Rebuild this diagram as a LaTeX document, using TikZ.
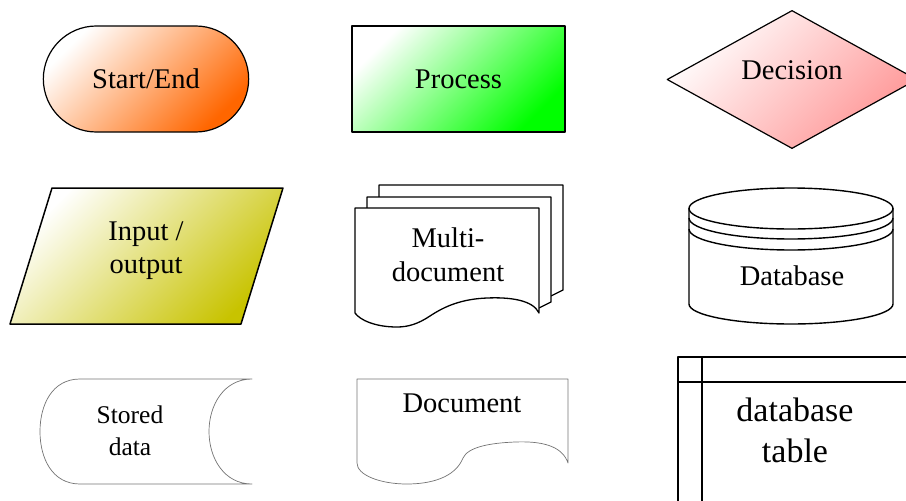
\documentclass[tikz,border=0pt]{standalone}
\usepackage{fontspec}
\setmainfont{Liberation Serif}
\usepackage{xcolor}
\usetikzlibrary{shapes.geometric, shapes.misc}
\usetikzlibrary{positioning}

\definecolor{termorange}{RGB}{255,102,0}
\definecolor{procgreen}{RGB}{0,255,0}
\definecolor{decpink}{RGB}{255,150,150}
\definecolor{ioolive}{RGB}{200,195,0}

\begin{document}
\begin{tikzpicture}[x=1pt, y=-1pt, line join=round, font=\fontsize{28.5}{33}\selectfont]
		\tikzstyle{terminal}=[draw=black, line width=1.2pt, rounded rectangle, minimum width=212pt, minimum height=106pt, top color=white, bottom color=termorange, shading angle=45]
		\tikzstyle{procbox}=[draw=black, line width=1.5pt, rectangle, minimum width=213pt, minimum height=106pt, top color=white, bottom color=procgreen, shading angle=45]
		\tikzstyle{decision}=[draw=black, line width=1.2pt, diamond, minimum width=250pt, minimum height=135pt, inner sep=0pt, top color=white, bottom color=decpink, shading angle=45]
		\tikzstyle{inout}=[draw=black, line width=1.5pt, top color=white, bottom color=ioolive, shading angle=45]
		\tikzstyle{page}=[draw=black, line width=1.3pt, fill=white]
		\tikzstyle{thinpage}=[draw=black!55, line width=0.7pt]
		\tikzstyle{dbline}=[draw=black, line width=1.4pt]
		\tikzstyle{tblline}=[draw=black, line width=1.8pt]
		\tikzstyle{label}=[align=center, inner sep=0pt]

		\useasboundingbox (0,0) rectangle (906,501);
		\clip (0,0) rectangle (906,501);

		% first row
		\node[terminal] (startend) at (146,79) {Start/End};
		\node[procbox] (proc) at (458.5,79) {Process};
		\node[decision] (dec) at (792,79.5) {\raisebox{18pt}{Decision}};

		% second row
		\path[inout] (52,188) -- (283,188) -- (241,324) -- (10,324) -- cycle;
		\node[label] (io) at (146,251) {Input /\\output};

		\draw[page] (379,197) -- (379,185) -- (563,185) -- (563,290) -- (551,296);
		\draw[page] (367,208) -- (367,197) -- (551,197) -- (551,302) -- (539,308);
		\draw[page] (355,208) -- (539,208) -- (539,313)
			.. controls (533,300) and (510,297) .. (487,298)
			.. controls (462,299) and (445,306) .. (430,316)
			.. controls (418,324) and (408,327) .. (397,327)
			.. controls (375,327) and (360,320) .. (355,313) -- cycle;
		\node[label, font=\fontsize{28.5}{34}\selectfont] (multi) at (448,255) {Multi-\\document};

		\draw[dbline] (689,208) -- (689,304) arc[start angle=180, end angle=360, x radius=102pt, y radius=20pt] -- (893,208);
		\draw[dbline] (791,208.5) ellipse[x radius=102pt, y radius=20.5pt];
		\draw[dbline] (689,218) arc[start angle=180, end angle=360, x radius=102pt, y radius=21pt];
		\draw[dbline] (689,229) arc[start angle=180, end angle=360, x radius=102pt, y radius=21pt];
		\node[label, anchor=base] (db) at (792,285) {Database};

		% third row
		\draw[thinpage] (80,379) -- (252,379)
			.. controls (224,379) and (209,405) .. (209,431.5)
			.. controls (209,458) and (224,484) .. (252,484) -- (80,484)
			.. controls (52,484) and (40,458) .. (40,431.5)
			.. controls (40,405) and (52,379) .. (80,379) -- cycle;
		\node[label, font=\fontsize{25.5}{32.5}\selectfont] (stored) at (130,431) {Stored\\data};

		\draw[thinpage] (357,379) -- (568,379) -- (568,463)
			.. controls (562,445) and (540,441) .. (515,442)
			.. controls (490,443) and (468,447) .. (463,458)
			.. controls (455,478) and (430,484) .. (407,484)
			.. controls (380,484) and (357,475) .. (357,463) -- cycle;
		\node[label, anchor=base] (doc) at (462,412) {Document};

		\draw[tblline] (678,357) rectangle (930,530);
		\draw[tblline] (702,357) -- (702,530);
		\draw[tblline] (678,382) -- (930,382);
		\node[label, font=\fontsize{34}{41}\selectfont] (tbl) at (795,430) {database\\table};
\end{tikzpicture}
\end{document}
